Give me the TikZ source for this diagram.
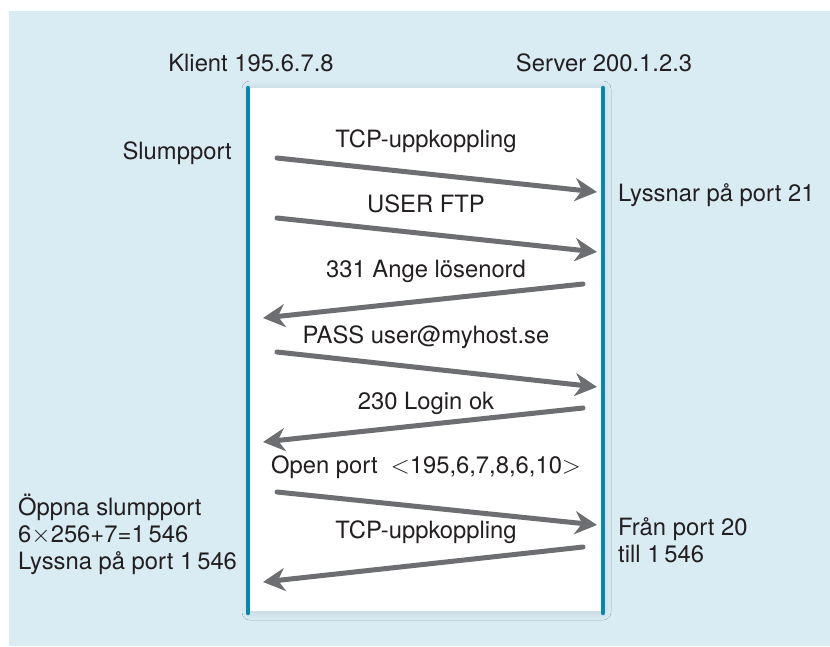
\documentclass[tikz,border=0pt]{standalone}
\usepackage{fontspec}
\setmainfont{TeX Gyre Heros}
\usetikzlibrary{arrows.meta,shadows.blur}

\definecolor{bgblue}{HTML}{D9EBF3}
\definecolor{lineblue}{HTML}{0A86A8}
\definecolor{msggray}{HTML}{6D6E71}
\definecolor{txt}{HTML}{231F20}

\tikzset{
  lbl/.style={text=txt, inner sep=0pt, font=\fontsize{23.8}{27}\selectfont},
  lifeline/.style={lineblue, line width=4.5pt, line cap=round},
  msg/.style={msggray, line width=5pt, line cap=round,
    -{Stealth[length=22pt,width=23pt,inset=7pt]}},
}

\begin{document}
\begin{tikzpicture}[x=1pt,y=-1pt]
	\useasboundingbox (0,0) rectangle (830,646);
	% Background and panel
	\fill[bgblue] (9,11) rectangle (830,646);
	\path[fill=white, blur shadow={shadow xshift=0pt, shadow yshift=-1pt,
		shadow blur radius=8pt, shadow opacity=12}] (250,88) rectangle (603,611);
	
	% Hosts
	\node[lbl, anchor=base] (klient) at (251,71) {Klient 195.6.7.8};
	\node[lbl, anchor=base] (server) at (604,71) {Server 200.1.2.3};
	
	% Lifelines
	\coordinate (kTop) at (248,88);
	\coordinate (kBot) at (248,613);
	\coordinate (sTop) at (603,88);
	\coordinate (sBot) at (603,613);
	\draw[lifeline] (kTop) -- (kBot);
	\draw[lifeline] (sTop) -- (sBot);
	
	% Message end points
	\coordinate (k1) at (277,158); \coordinate (s1) at (597,192);
	\coordinate (k2) at (277,218); \coordinate (s2) at (597,252);
	\coordinate (s3) at (583,284); \coordinate (k3) at (263,318);
	\coordinate (k4) at (277,352); \coordinate (s4) at (597,387);
	\coordinate (s5) at (583,408); \coordinate (k5) at (263,442);
	\coordinate (k6) at (277,492); \coordinate (s6) at (597,525);
	\coordinate (s7) at (583,547); \coordinate (k7) at (263,582);
	
	% Messages
	\draw[msg] (k1) -- (s1);
	\draw[msg] (k2) -- (s2);
	\draw[msg] (s3) -- (k3);
	\draw[msg] (k4) -- (s4);
	\draw[msg] (s5) -- (k5);
	\draw[msg] (k6) -- (s6);
	\draw[msg] (s7) -- (k7);
	
	% Message labels
	\node[lbl, anchor=base] (m1) at (426,147) {TCP-uppkoppling};
	\node[lbl, anchor=base] (m2) at (426,212) {USER FTP};
	\node[lbl, anchor=base] (m3) at (426,277) {331 Ange lösenord};
	\node[lbl, anchor=base] (m4) at (426,343) {PASS user@myhost.se};
	\node[lbl, anchor=base] (m5) at (426,409) {230 Login ok};
	\node[lbl, anchor=base] (m6) at (426,473) {Open port~~$<$195,6,7,8,6,10$>$};
	\node[lbl, anchor=base] (m7) at (426,538) {TCP-uppkoppling};
	
	% Notes beside the lifelines (base is the last line)
	\node[lbl, anchor=base east] (slump) at (232,159) {Slumpport};
	\node[lbl, anchor=base west] (lyss) at (618,201) {Lyssnar på port 21};
	\node[lbl, anchor=base west, align=left] (oppna) at (18,569)
		{Öppna slumpport\\6$\times$256+7=1\,546\\Lyssna på port 1\,546};
	\node[lbl, anchor=base west, align=left] (fran) at (618,562)
		{Från port 20\\till 1\,546};
\end{tikzpicture}
\end{document}
